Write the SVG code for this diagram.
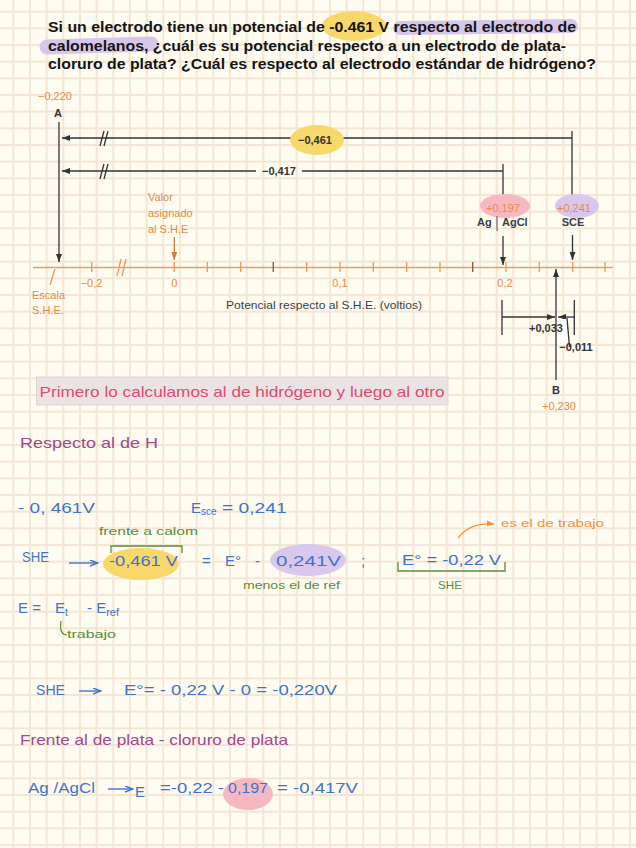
<svg xmlns="http://www.w3.org/2000/svg" width="636" height="848" viewBox="0 0 636 848">
<defs>
<pattern id="grid" patternUnits="userSpaceOnUse" x="12.33" y="10.67" width="16.667" height="16.667">
<rect x="0" y="0" width="2" height="16.667" fill="#f3e6d4"/>
<rect x="0" y="0" width="16.667" height="2" fill="#f3e6d4"/>
</pattern>
<marker id="ah" markerUnits="userSpaceOnUse" markerWidth="8" markerHeight="6" refX="8" refY="3" orient="auto"><path d="M0,0 L8,3 L0,6 z" fill="#333"/></marker>
<marker id="ao" markerUnits="userSpaceOnUse" markerWidth="8" markerHeight="6" refX="8" refY="3" orient="auto"><path d="M0,0 L8,3 L0,6 z" fill="#d9783a"/></marker>
<marker id="ab" markerUnits="userSpaceOnUse" markerWidth="9" markerHeight="7" refX="8" refY="3.5" orient="auto"><path d="M0,0.5 L8,3.5 L0,6.5" fill="none" stroke="#3f73c9" stroke-width="1.4"/></marker>
<marker id="aor" markerUnits="userSpaceOnUse" markerWidth="8" markerHeight="7" refX="7" refY="3.5" orient="auto"><path d="M0,0.5 L7,3.5 L0,6.5 z" fill="#f0923a"/></marker>
<style>
.t{font-family:"Liberation Sans",Arial,sans-serif;font-weight:bold;font-size:14px;fill:#141414}
.d{font-family:"Liberation Sans",Arial,sans-serif;font-weight:bold;font-size:11px;fill:#333}
.dr{font-family:"Liberation Sans",Arial,sans-serif;font-size:11px;fill:#3b3f4a}
.o{font-family:"Liberation Sans",Arial,sans-serif;font-size:11px;fill:#e8884a}
.ln{stroke:#333;stroke-width:1.3;fill:none}
.ax{stroke:#ef9a62;stroke-width:1.4;fill:none}
.hb{font-family:"Liberation Sans",Arial,sans-serif;font-size:15px;fill:#3f73c9}
.hp{font-family:"Liberation Sans",Arial,sans-serif;font-size:15px;fill:#a3478d}
.hg{font-family:"Liberation Sans",Arial,sans-serif;font-size:11px;fill:#5b8c3c}
.ho{font-family:"Liberation Sans",Arial,sans-serif;font-size:11px;fill:#f0923a}
</style>
</defs>
<rect width="636" height="848" fill="#fefbf0"/>
<rect width="636" height="848" fill="url(#grid)"/>

<g id="title">
<ellipse cx="354" cy="26" rx="32" ry="15" fill="#f8d86a"/>
<path d="M400,28 L571,26" stroke="#d6c6ea" stroke-width="14" stroke-linecap="round"/>
<path d="M47,47 L151,44" stroke="#d6c6ea" stroke-width="15" stroke-linecap="round"/>
<text class="t" x="48" y="31.5" textLength="528" lengthAdjust="spacingAndGlyphs">Si un electrodo tiene un potencial de -0.461 V respecto al electrodo de</text>
<text class="t" x="48" y="50.5" textLength="518" lengthAdjust="spacingAndGlyphs">calomelanos, ¿cuál es su potencial respecto a un electrodo de plata-</text>
<text class="t" x="48" y="69" textLength="548" lengthAdjust="spacingAndGlyphs">cloruro de plata? ¿Cuál es respecto al electrodo estándar de hidrógeno?</text>
</g>

<g id="connectors">
<path class="ln" d="M59,122 V262" marker-end="url(#ah)"/>
<path class="ln" d="M572,131 V197 M572,138 H340"/>
<path class="ln" d="M292,138 H62" marker-end="url(#ah)"/>
<path class="ln" d="M503,164 V198 M503,171 H302"/>
<path class="ln" d="M256,171 H62" marker-end="url(#ah)"/>
<path class="ln" d="M100,146 L104,131 M104,146 L108,131 M100,179 L104,164 M104,179 L108,164"/>
<path class="ln" d="M503,236 V265" marker-end="url(#ah)"/>
<path class="ln" d="M572.5,235 V260" marker-end="url(#ah)"/>
<path d="M174.3,237 V260" stroke="#d9783a" stroke-width="1.3" marker-end="url(#ao)"/>
<path class="ln" d="M556,380 V269" marker-end="url(#ah)"/>
<path class="ln" d="M502,300 V335 M574.3,300 V335"/>
<path class="ln" d="M502,317 H555" marker-end="url(#ah)"/>
<path class="ln" d="M574.3,317 H558" marker-end="url(#ah)"/>
<path d="M558,319 L566,319 L569,345 L558,345 z" fill="#ffffff"/>
<path class="ln" d="M567,318 L569.5,347"/>
</g>

<g id="axis">
<path class="ax" d="M33,267.5 H613"/>
<path class="ax" d="M91.7,262 V272 M174.3,262 V272 M207.3,262 V272 M240.7,262 V272 M306.7,262 V272 M340,262 V272 M373.3,262 V272 M406.7,262 V272 M440,262 V272 M506,262 V272 M539.3,262 V272 M572.7,262 V272 M605,262 V272"/>
<path d="M273.3,262 V272 M472.7,262 V272" stroke="#9a5a3a" stroke-width="1.4"/>
<path class="ax" d="M117,276 L121,259 M122,276 L126,259 M50,285 L55,269"/>
<text class="o" x="91.5" y="287" text-anchor="middle">−0,2</text>
<text class="o" x="174.3" y="287" text-anchor="middle">0</text>
<text class="o" x="340" y="287" text-anchor="middle">0,1</text>
<text class="o" x="505" y="287" text-anchor="middle">0,2</text>
<text class="o" x="32" y="299">Escala</text>
<text class="o" x="32" y="314">S.H.E.</text>
<text class="dr" x="226" y="309" textLength="196" lengthAdjust="spacingAndGlyphs">Potencial respecto al S.H.E. (voltios)</text>
</g>

<g id="nodeA">
<text class="o" x="38" y="100">−0,220</text>
<text class="d" x="58" y="117" text-anchor="middle">A</text>
</g>

<g id="label461">
<ellipse cx="317" cy="140" rx="27" ry="15" fill="#f8d86a"/>
<text class="d" x="315" y="144" text-anchor="middle">−0,461</text>
</g>

<g id="label417">
<text class="d" x="279" y="175" text-anchor="middle">−0,417</text>
</g>

<g id="valor">
<text class="o" x="148" y="201">Valor</text>
<text class="o" x="148" y="217">asignado</text>
<text class="o" x="148" y="233">al S.H.E</text>
</g>

<g id="agagcl">
<ellipse cx="505" cy="206" rx="25" ry="12" fill="#f6b9c2"/>
<text class="o" x="503" y="212" text-anchor="middle">+0,197</text>
<text class="d" x="477" y="226" style="fill:#3b3f4a">Ag</text>
<path d="M497,216 V231" stroke="#555" stroke-width="1"/>
<text class="d" x="502" y="226" style="fill:#3b3f4a">AgCl</text>
</g>

<g id="sce">
<ellipse cx="577" cy="206" rx="22" ry="12" fill="#d9c8ec"/>
<text class="o" x="574" y="212" text-anchor="middle">+0,241</text>
<text class="d" x="573" y="226" text-anchor="middle" style="fill:#3b3f4a">SCE</text>
</g>

<g id="nodeB">
<text class="d" x="529" y="332">+0,033</text>
<text class="d" x="576" y="351" text-anchor="middle">−0,011</text>
<text class="d" x="556" y="394" text-anchor="middle">B</text>
<text class="o" x="559" y="410" text-anchor="middle">+0,230</text>
</g>

<g id="note">
<rect x="36.5" y="377" width="411.5" height="28" fill="#ebe3e3" stroke="#d8d0d0" stroke-width="0.8"/>
<text x="39.5" y="397" font-family="Liberation Sans, Arial, sans-serif" font-size="15" fill="#df4a70" textLength="405" lengthAdjust="spacingAndGlyphs">Primero lo calculamos al de hidrógeno y luego al otro</text>
</g>

<g id="handwriting">
<text class="hp" x="20" y="448" textLength="138" lengthAdjust="spacingAndGlyphs">Respecto  al de H</text>
<text class="hb" x="18" y="513" textLength="77" lengthAdjust="spacingAndGlyphs">- 0, 461V</text>
<text class="hb" x="191" y="513">E<tspan font-size="10" dy="2">sce</tspan><tspan dy="-2" textLength="70" lengthAdjust="spacingAndGlyphs"> = 0,241</tspan></text>
<text class="hg" x="99" y="535" textLength="99" lengthAdjust="spacingAndGlyphs">frente a calom</text>
<path d="M458,538 Q470,522 494,524" fill="none" stroke="#f0923a" stroke-width="1.3" marker-end="url(#aor)"/>
<text class="ho" x="501" y="527" textLength="103" lengthAdjust="spacingAndGlyphs">es el de trabajo</text>

<ellipse cx="141" cy="564" rx="38" ry="16" fill="#f8d86a"/>
<ellipse cx="308" cy="560" rx="38" ry="16" fill="#d9c8ec"/>
<path d="M111,553 V546 H182 V553" fill="none" stroke="#5b8c3c" stroke-width="1.3"/>
<path d="M398,562 V571 H505 V562" fill="none" stroke="#5b8c3c" stroke-width="1.3"/>
<text class="hb" x="22" y="562" font-size="11" textLength="27" lengthAdjust="spacingAndGlyphs">SHE</text>
<path d="M69,563 H98" stroke="#3f73c9" stroke-width="1.4" marker-end="url(#ab)"/>
<text class="hb" x="109" y="566" textLength="69" lengthAdjust="spacingAndGlyphs">-0,461 V</text>
<text class="hb" x="202" y="566">=</text>
<text class="hb" x="225" y="566">E°</text>
<text class="hb" x="255" y="566">-</text>
<text class="hb" x="276" y="566" textLength="65" lengthAdjust="spacingAndGlyphs">0,241V</text>
<text class="hb" x="361" y="566">;</text>
<text class="hb" x="402" y="565" textLength="99" lengthAdjust="spacingAndGlyphs">E° = -0,22 V</text>
<text class="hg" x="243" y="589" textLength="97" lengthAdjust="spacingAndGlyphs">menos el de ref</text>
<text class="hg" x="438" y="589" textLength="24" lengthAdjust="spacingAndGlyphs">SHE</text>

<text class="hb" x="18" y="613">E =</text>
<text class="hb" x="55" y="613">E<tspan font-size="10" dy="3">t</tspan></text>
<text class="hb" x="87" y="613">- E<tspan font-size="11" dy="3">ref</tspan></text>
<path d="M61,621 Q59,635 67,635" fill="none" stroke="#5b8c3c" stroke-width="1.2"/>
<text class="hg" x="67" y="638" textLength="49" lengthAdjust="spacingAndGlyphs">trabajo</text>

<text class="hb" x="36" y="695" font-size="12" textLength="29" lengthAdjust="spacingAndGlyphs">SHE</text>
<path d="M79,691 H101" stroke="#3f73c9" stroke-width="1.4" marker-end="url(#ab)"/>
<text class="hb" x="124" y="695" textLength="213" lengthAdjust="spacingAndGlyphs">E°= - 0,22 V - 0 = -0,220V</text>

<text class="hp" x="20" y="745" textLength="268" lengthAdjust="spacingAndGlyphs">Frente al de plata - cloruro de plata</text>

<ellipse cx="248" cy="794" rx="25" ry="16" fill="#f6b9c2"/>
<text class="hb" x="28" y="793" textLength="67" lengthAdjust="spacingAndGlyphs">Ag /AgCl</text>
<path d="M108,789 H133" stroke="#3f73c9" stroke-width="1.4" marker-end="url(#ab)"/>
<text class="hb" x="135" y="797">E</text>
<text class="hb" x="160" y="793" textLength="64" lengthAdjust="spacingAndGlyphs">=-0,22 -</text>
<text class="hb" x="228" y="793" textLength="40" lengthAdjust="spacingAndGlyphs">0,197</text>
<text class="hb" x="277" y="793" textLength="81" lengthAdjust="spacingAndGlyphs">= -0,417V</text>
</g>
</svg>
